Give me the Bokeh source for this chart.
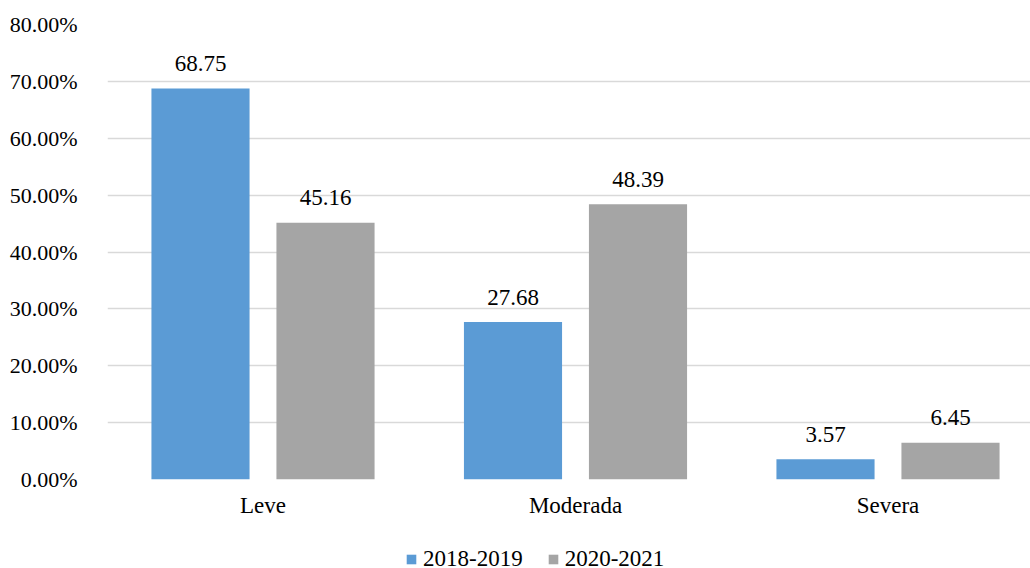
from bokeh.plotting import figure
from bokeh.layouts import column
from bokeh.models import (ColumnDataSource, FixedTicker, PrintfTickFormatter,
                          Legend, LegendItem, Range1d)
from bokeh.core.properties import value
from bokeh.embed import file_html
from bokeh.resources import INLINE

categories = ["Leve", "Moderada", "Severa"]
series_names = ["2018-2019", "2020-2021"]
values_2018 = [68.75, 27.68, 3.57]
values_2020 = [45.16, 48.39, 6.45]
y_ticks = [0, 10, 20, 30, 40, 50, 60, 70, 80]

BLUE = "#5B9BD5"
GRAY = "#A5A5A5"
FONT = "Liberation Serif"

xs = list(range(len(categories)))
offset = 0.2
bar_w = 0.314

src_a = ColumnDataSource(dict(x=[x - offset for x in xs], top=values_2018,
                              label=[f"{v:.2f}" for v in values_2018]))
src_b = ColumnDataSource(dict(x=[x + offset for x in xs], top=values_2020,
                              label=[f"{v:.2f}" for v in values_2020]))

p = figure(width=1030, height=520, output_backend="svg",
           toolbar_location=None,
           x_range=Range1d(-0.4976, 2.456), y_range=Range1d(0, 80),
           min_border_left=107, min_border_right=0, min_border_top=24,
           min_border_bottom=37)
p.outline_line_color = None
p.background_fill_color = "white"

p.vbar(x="x", top="top", width=bar_w, source=src_a, fill_color=BLUE,
       line_color=None)
p.vbar(x="x", top="top", width=bar_w, source=src_b, fill_color=GRAY,
       line_color=None)

for src in (src_a, src_b):
    p.text(x="x", y="top", text="label", source=src, text_align="center",
           text_baseline="alphabetic", y_offset=-25,
           text_font=value(FONT), text_font_size="23px", text_color="#000000")

# axes
p.yaxis.ticker = FixedTicker(ticks=y_ticks)
p.yaxis.formatter = PrintfTickFormatter(format="%.2f%%")
p.yaxis.axis_line_color = None
p.yaxis.major_tick_line_color = None
p.yaxis.minor_tick_line_color = None
p.yaxis.major_label_standoff = 24
p.yaxis.major_label_text_font = FONT
p.yaxis.major_label_text_font_size = "22px"
p.yaxis.major_label_text_color = "#000000"

p.xaxis.ticker = FixedTicker(ticks=xs)
p.xaxis.major_label_overrides = {i: c for i, c in enumerate(categories)}
p.xaxis.axis_line_color = None
p.xaxis.major_tick_line_color = None
p.xaxis.minor_tick_line_color = None
p.xaxis.major_label_standoff = 7
p.xaxis.major_label_text_font = FONT
p.xaxis.major_label_text_font_size = "23px"
p.xaxis.major_label_text_color = "#000000"

p.xgrid.grid_line_color = None
p.ygrid.grid_line_color = "#D9D9D9"
p.ygrid.grid_line_width = 1.5

# legend strip below the chart; its keys are bars kept outside the visible range
lg = figure(width=1030, height=48, output_backend="svg", toolbar_location=None,
            x_axis_type=None, y_axis_type=None,
            x_range=Range1d(0, 1), y_range=Range1d(0, 1),
            min_border_left=0, min_border_right=0, min_border_top=0,
            min_border_bottom=0)
lg.outline_line_color = None
lg.xgrid.grid_line_color = None
lg.ygrid.grid_line_color = None
key_a = lg.vbar(x=[-10], top=[0], width=0.1, fill_color=BLUE, line_color=None)
key_b = lg.vbar(x=[-10], top=[0], width=0.1, fill_color=GRAY, line_color=None)

legend = Legend(items=[LegendItem(label=series_names[0], renderers=[key_a]),
                       LegendItem(label=series_names[1], renderers=[key_b])],
                orientation="horizontal", location=(298, -4),
                glyph_width=12, glyph_height=12, label_standoff=6, spacing=24,
                padding=0, margin=0, border_line_color=None,
                background_fill_alpha=0,
                label_text_font=FONT, label_text_font_size="23px",
                label_text_color="#000000")
lg.add_layout(legend, "center")

layout = column(p, lg, spacing=0)
open("out.html", "w").write(file_html(layout, INLINE))
